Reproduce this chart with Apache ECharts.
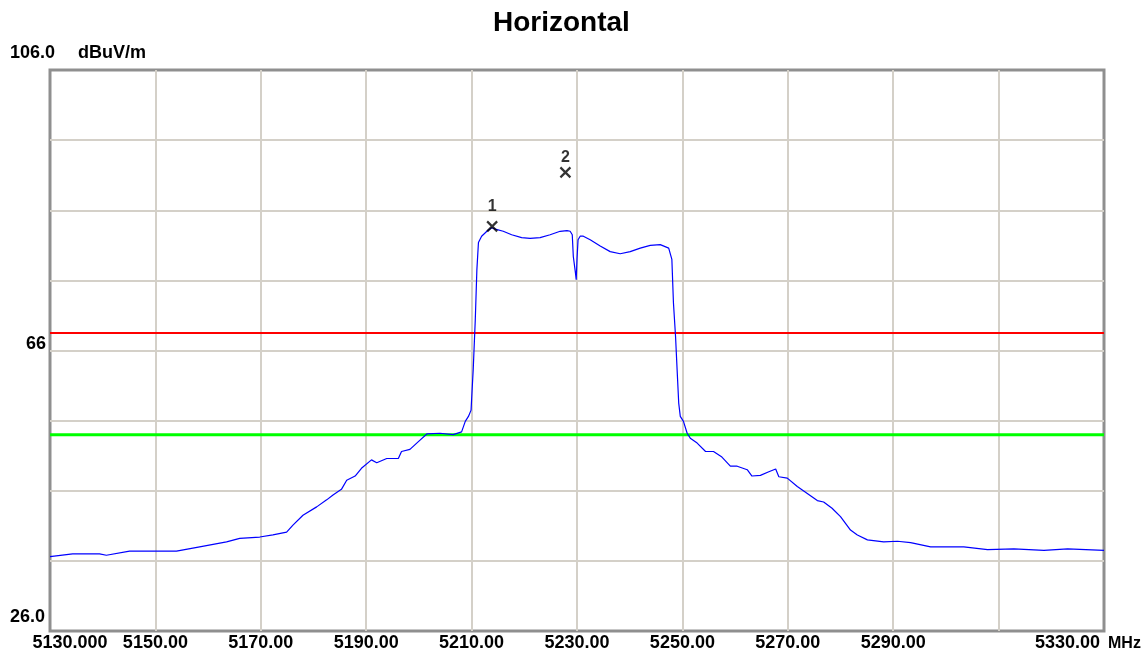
<!DOCTYPE html>
<html>
<head>
<meta charset="utf-8">
<title>Horizontal</title>
<style>
html,body{margin:0;padding:0;background:#ffffff;}
#chart{width:1147px;height:657px;}
</style>
<script src="https://cdn.jsdelivr.net/npm/echarts@6.0.0/dist/echarts.min.js"></script>
</head>
<body>
<div id="chart"></div>
<script>
// ---- data ----
const titleText = 'Horizontal';
const yUnit = 'dBuV/m';
const xUnit = 'MHz';
const xTickValues = [5130, 5150, 5170, 5190, 5210, 5230, 5250, 5270, 5290, 5330];
const xTickLabels = ['5130.000', '5150.00', '5170.00', '5190.00', '5210.00', '5230.00', '5250.00', '5270.00', '5290.00', '5330.00'];
const yTickValues = [26, 66, 106];
const yTickLabels = ['26.0', '66', '106.0'];

const traceFreq = [
  5130.0, 5134.3, 5139.4, 5140.7, 5145.1, 5154.0, 5158.4, 5163.5, 5166.0, 5169.8,
  5172.3, 5174.9, 5176.1, 5178.0, 5180.6, 5182.5, 5183.7, 5185.3, 5186.3, 5187.9,
  5189.1, 5191.0, 5192.0, 5193.9, 5196.1, 5196.7, 5198.3, 5199.9, 5201.5, 5204.0,
  5206.5, 5208.1, 5208.8, 5209.4, 5209.9, 5210.0, 5210.3, 5210.7, 5211.0, 5211.3,
  5211.9, 5212.9, 5213.8, 5214.5, 5216.0, 5217.6, 5219.5, 5221.1, 5223.0, 5224.9,
  5226.8, 5228.1, 5228.7, 5229.1, 5229.3, 5229.7, 5229.85, 5230.0, 5230.2, 5230.6,
  5231.2, 5232.5, 5234.4, 5236.3, 5238.2, 5240.1, 5242.0, 5243.9, 5245.8, 5247.4,
  5247.7, 5248.0, 5248.3, 5248.7, 5249.0, 5249.3, 5249.6, 5250.2, 5250.9, 5251.5,
  5252.8, 5254.4, 5255.9, 5257.5, 5259.1, 5260.4, 5262.3, 5263.2, 5264.8, 5266.4,
  5267.7, 5268.3, 5269.9, 5271.8, 5273.7, 5275.6, 5276.8, 5278.4, 5280.0, 5281.9,
  5283.2, 5285.1, 5288.2, 5290.8, 5293.3, 5297.1, 5303.4, 5307.9, 5312.9, 5318.6,
  5323.1, 5330.0
];
const traceLevel = [
  36.6, 37.0, 37.0, 36.8, 37.4, 37.4, 38.0, 38.7, 39.2, 39.4,
  39.7, 40.1, 41.1, 42.5, 43.7, 44.7, 45.4, 46.2, 47.5, 48.1,
  49.2, 50.4, 50.0, 50.6, 50.6, 51.6, 51.9, 53.0, 54.1, 54.2,
  54.0, 54.4, 55.9, 56.6, 57.5, 59.0, 63.2, 70.4, 77.5, 81.4,
  82.3, 83.0, 83.5, 83.3, 83.0, 82.5, 82.1, 82.0, 82.1, 82.5,
  83.0, 83.1, 83.0, 82.5, 79.4, 77.1, 76.1, 79.0, 81.8, 82.3,
  82.3, 81.8, 80.9, 80.1, 79.8, 80.1, 80.6, 81.0, 81.1, 80.6,
  80.4, 79.0, 72.8, 68.0, 63.2, 58.5, 56.6, 55.9, 54.2, 53.5,
  52.8, 51.6, 51.6, 50.8, 49.5, 49.5, 49.0, 48.1, 48.2, 48.7,
  49.1, 48.0, 47.8, 46.6, 45.6, 44.6, 44.4, 43.5, 42.3, 40.4,
  39.7, 39.0, 38.7, 38.8, 38.6, 38.0, 38.0, 37.6, 37.7, 37.5,
  37.7, 37.5
];

const limitPeak = 68.5;
const limitAvg = 54;

const markerFreq = [5213.9, 5227.8];
const markerLevel = [83.7, 91.4];
const markerName = ['1', '2'];

// ---- chart ----
const FONT = "'Liberation Sans', Arial, sans-serif";
const xMin = xTickValues[0];
const xMax = xTickValues[xTickValues.length - 1];
const yMin = yTickValues[0];
const yMax = yTickValues[yTickValues.length - 1];

const tracePoints = traceFreq.map((f, i) => [f, traceLevel[i]]);
const markerPoints = markerFreq.map((f, i) => ({
  value: [f, markerLevel[i]],
  name: markerName[i],
  label: { distance: i === 0 ? 6 : 1 }
}));

const labelFont = { fontFamily: FONT, fontSize: 18, fontWeight: 'bold', color: '#000' };

const chart = echarts.init(document.getElementById('chart'), null, { renderer: 'canvas' });
chart.setOption({
  animation: false,
  backgroundColor: '#ffffff',
  title: {
    text: titleText,
    left: 493,
    top: 9,
    padding: 0,
    textStyle: { fontFamily: FONT, fontSize: 28, fontWeight: 'bold', color: '#000' }
  },
  grid: {
    left: 50, right: 43, top: 70, bottom: 26,
    containLabel: false,
    outerBoundsMode: 'none',
    show: true, borderColor: '#8f8f8f', borderWidth: 3, backgroundColor: '#ffffff'
  },
  xAxis: {
    type: 'value',
    min: xMin, max: xMax, interval: 20,
    name: xUnit,
    nameLocation: 'end',
    nameGap: 4,
    nameTextStyle: Object.assign({}, labelFont, { align: 'left', verticalAlign: 'top', padding: [5, 0, 0, 0], fontSize: 16 }),
    axisLine: { show: false },
    axisTick: { show: false },
    splitLine: { show: true, showMinLine: false, showMaxLine: false, lineStyle: { color: '#d4d0c8', width: 2 } },
    axisLabel: Object.assign({
      margin: 3,
      hideOverlap: false,
      showMinLabel: true, showMaxLabel: true,
      formatter: function (v) {
        const i = xTickValues.indexOf(Math.round(v * 1000) / 1000);
        if (i < 0) return '';
        if (i === 0) return '{first|' + xTickLabels[i] + '}';
        if (i === xTickValues.length - 1) return '{last|' + xTickLabels[i] + '}';
        return xTickLabels[i];
      },
      rich: {
        first: Object.assign({ padding: [0, 0, 0, 40] }, labelFont),
        last: Object.assign({ padding: [0, 73, 0, 0] }, labelFont)
      }
    }, labelFont)
  },
  yAxis: {
    type: 'value',
    min: yMin, max: yMax, interval: 10,
    name: yUnit,
    nameLocation: 'end',
    nameGap: 8,
    nameTextStyle: Object.assign({ align: 'left', verticalAlign: 'bottom', padding: [0, 0, 0, 28] }, labelFont),
    axisLine: { show: false },
    axisTick: { show: false },
    splitLine: { show: true, showMinLine: false, showMaxLine: false, lineStyle: { color: '#d4d0c8', width: 2 } },
    axisLabel: Object.assign({
      align: 'left',
      margin: 40,
      showMinLabel: true, showMaxLabel: true,
      formatter: function (v) {
        const i = yTickValues.indexOf(Math.round(v * 1000) / 1000);
        if (i < 0) return '';
        const key = ['bot', 'mid', 'top'][i];
        return '{' + key + '|' + yTickLabels[i] + '}';
      },
      rich: {
        top: Object.assign({ padding: [0, 0, 34, 0] }, labelFont),
        mid: Object.assign({ padding: [0, 0, 12, 16] }, labelFont),
        bot: Object.assign({ padding: [0, 0, 28, 0] }, labelFont)
      }
    }, labelFont)
  },
  series: [
    {
      type: 'line',
      data: [[xMin, limitPeak], [xMax, limitPeak]],
      showSymbol: false, silent: true,
      lineStyle: { color: '#ff0000', width: 2 },
      z: 2
    },
    {
      type: 'line',
      data: [[xMin, limitAvg], [xMax, limitAvg]],
      showSymbol: false, silent: true,
      lineStyle: { color: '#00ff00', width: 3 },
      z: 2
    },
    {
      type: 'line',
      data: tracePoints,
      showSymbol: false, silent: true,
      lineStyle: { color: '#0000ff', width: 1.2 },
      z: 3
    },
    {
      type: 'scatter',
      data: markerPoints,
      symbol: 'path://M0,0L10,10M10,0L0,10',
      symbolSize: 10,
      itemStyle: { color: 'rgba(0,0,0,0)', borderColor: '#000', borderWidth: 2.2 },
      label: {
        show: true, position: 'top', formatter: '{b}',
        fontFamily: FONT, fontSize: 16, fontWeight: 'bold', color: '#000'
      },
      z: 4
    }
  ]
});
</script>
</body>
</html>
